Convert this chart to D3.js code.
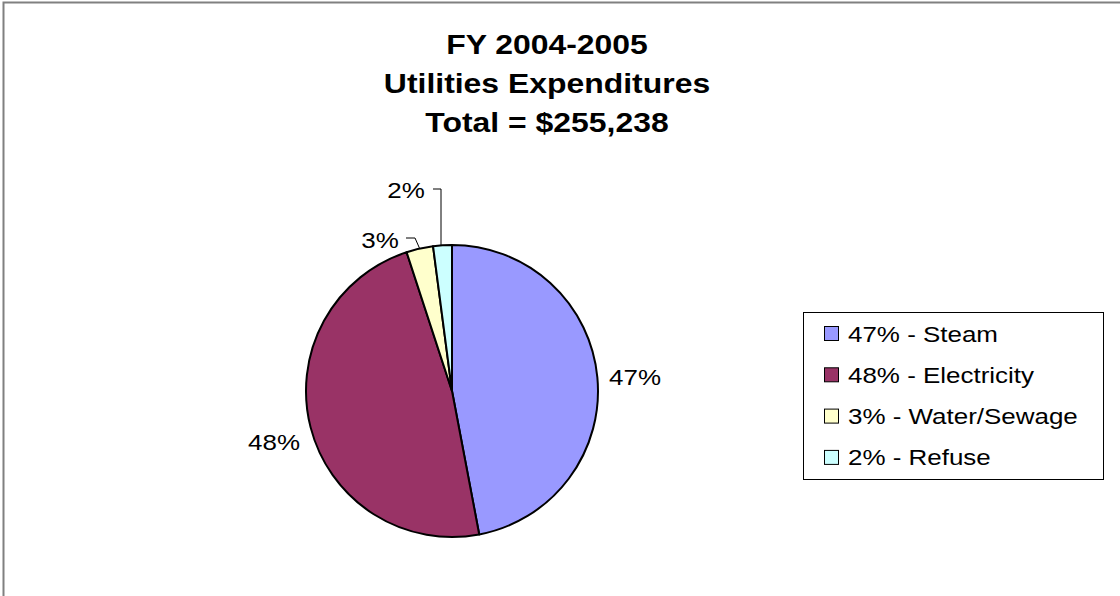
<!DOCTYPE html>
<html>
<head>
<meta charset="utf-8">
<script src="https://cdn.jsdelivr.net/npm/d3@7"></script>
<style>
  html, body { margin: 0; padding: 0; background: #fff; }
  svg { display: block; }
  text { font-family: "Liberation Sans", Arial, sans-serif; fill: #000; }
</style>
</head>
<body>
<svg id="chart" width="1120" height="596"></svg>
<script>
const titleLines = ["FY 2004-2005", "Utilities Expenditures", "Total = $255,238"];
const categories = ["Steam", "Electricity", "Water/Sewage", "Refuse"];
const values = [120000, 122400, 7550, 5288];
const percentLabels = ["47%", "48%", "3%", "2%"];
const colors = ["#9999FF", "#993366", "#FFFFCC", "#CCFFFF"];

const svg = d3.select("#chart");
const W = 1120, H = 596;
const SX = 1.18; // horizontal text stretch seen in the reference

function stretchedText(parent, x, y, str, size, anchor, weight, sx) {
  const g = parent.append("g").attr("transform", `translate(${x},${y}) scale(${sx},1)`);
  return g.append("text")
    .attr("x", 0).attr("y", 0)
    .attr("text-anchor", anchor)
    .attr("font-size", size)
    .attr("font-weight", weight || "normal")
    .text(str);
}

// chart area border
svg.append("rect")
  .attr("x", 3.5).attr("y", 2.5)
  .attr("width", W + 10).attr("height", H + 10)
  .attr("fill", "none").attr("stroke", "#808080").attr("stroke-width", 2);

// title
titleLines.forEach((t, i) => {
  stretchedText(svg, 547, 54 + i * 39, t, 28, "middle", "bold", 1.14);
});

// pie
const cx = 452, cy = 391, r = 146;
const pie = d3.pie().sort(null).value(d => d)(values);
const arc = d3.arc().innerRadius(0).outerRadius(r);
const g = svg.append("g").attr("transform", `translate(${cx},${cy})`);
g.selectAll("path").data(pie).join("path")
  .attr("d", arc)
  .attr("fill", (d, i) => colors[i])
  .attr("stroke", "#000").attr("stroke-width", 2).attr("stroke-linejoin", "round");

// labels
const labelPos = [
  {x: 635, y: 385},
  {x: 274, y: 450},
  {x: 380, y: 248},
  {x: 406, y: 198}
];
pie.forEach((d, i) => {
  stretchedText(svg, labelPos[i].x, labelPos[i].y, percentLabels[i], 22, "middle", "normal", SX);
});

// leader lines for small slices
const leaders = [
  null, null,
  {p1: [406, 238], p2: [415, 238]},
  {p1: [433, 189], p2: [441, 189]}
];
pie.forEach((d, i) => {
  if (!leaders[i]) return;
  const a = (d.startAngle + d.endAngle) / 2;
  const end = [cx + r * Math.sin(a), cy - r * Math.cos(a)];
  const L = leaders[i];
  const pts = i === 3 ? [L.p1, L.p2, [L.p2[0], end[1]]] : [L.p1, L.p2, end];
  svg.append("path")
    .attr("d", d3.line()(pts))
    .attr("fill", "none").attr("stroke", "#000").attr("stroke-width", 1);
});

// legend
const lg = svg.append("g");
lg.append("rect")
  .attr("x", 803.5).attr("y", 312.5).attr("width", 300).attr("height", 167)
  .attr("fill", "#fff").attr("stroke", "#000").attr("stroke-width", 1);
categories.forEach((c, i) => {
  const y = 333.5 + i * 41.3;
  lg.append("rect")
    .attr("x", 824.5).attr("y", y - 7).attr("width", 14).attr("height", 14)
    .attr("fill", colors[i]).attr("stroke", "#000").attr("stroke-width", 1);
  stretchedText(lg, 848, y + 8, percentLabels[i] + " - " + c, 22, "start", "normal", SX);
});
</script>
</body>
</html>
